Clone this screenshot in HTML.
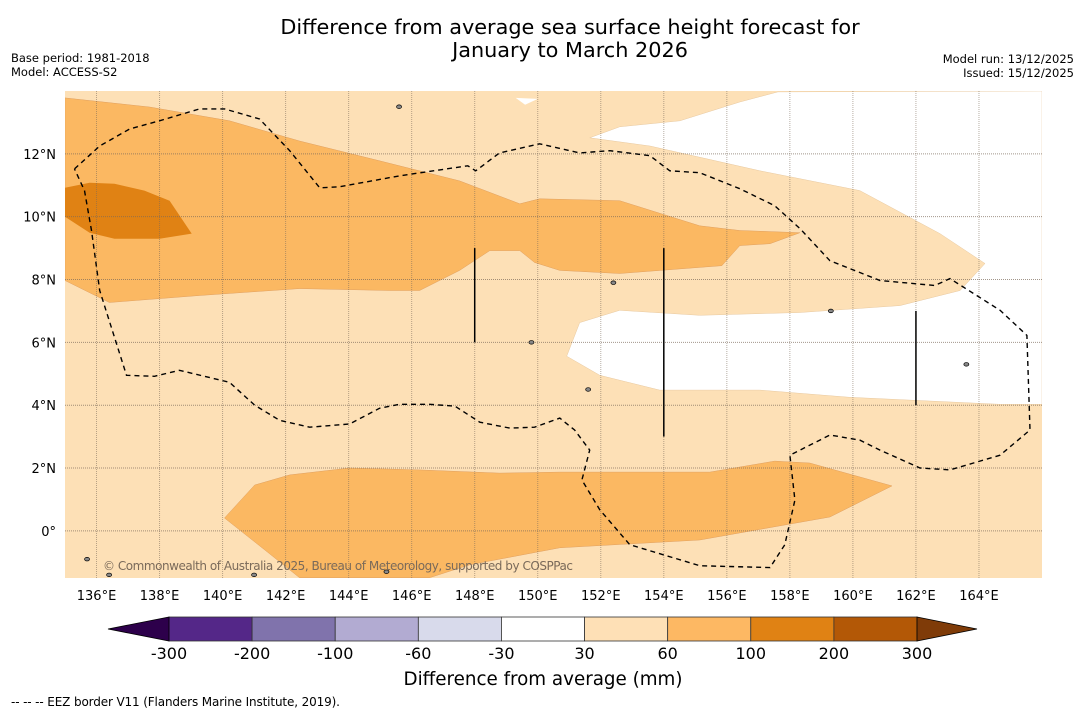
<!DOCTYPE html>
<html><head><meta charset="utf-8"><style>
html,body{margin:0;padding:0;background:#fff;}
body{width:1085px;height:713px;overflow:hidden;font-family:"Liberation Sans","DejaVu Sans",sans-serif;}
</style></head><body>
<svg id="chart" width="1085" height="713" xmlns="http://www.w3.org/2000/svg" font-family="DejaVu Sans, Liberation Sans, sans-serif">
<text x="570" y="34" font-size="20.8" text-anchor="middle">Difference from average sea surface height forecast for</text>
<text x="570" y="57" font-size="20.8" text-anchor="middle">January to March 2026</text>
<text x="11" y="62" font-size="11.5">Base period: 1981-2018</text>
<text x="11" y="76" font-size="11.5">Model: ACCESS-S2</text>
<text x="1074" y="63" font-size="11.5" text-anchor="end">Model run: 13/12/2025</text>
<text x="1074" y="77" font-size="11.5" text-anchor="end">Issued: 15/12/2025</text>
<defs><clipPath id="mapclip"><rect x="65" y="91" width="977" height="487"/></clipPath></defs>
<g id="map" clip-path="url(#mapclip)"></g>
<g id="axes"></g>
<g id="cbar"></g>
<text x="543" y="685" font-size="18.3" text-anchor="middle">Difference from average (mm)</text>
<text x="11" y="706" font-size="12" textLength="329">--  --  -- EEZ border V11 (Flanders Marine Institute, 2019).</text>
</svg>
<script>
const NS="http://www.w3.org/2000/svg";
// map extents (data)
const lonMin=135.0, lonMax=166.0, latMin=-1.5, latMax=14.0;
const lonTicks=[136,138,140,142,144,146,148,150,152,154,156,158,160,162,164];
const latTicks=[0,2,4,6,8,10,12];
const latTickLabels=["0°","2°N","4°N","6°N","8°N","10°N","12°N"];
// contour polygons [lon,lat]
const band60_100_north=[[135,13.78],[137.68,13.49],[140.22,13.05],[142.44,12.41],[144.98,11.78],[147.52,11.14],[149.43,10.41],[150.06,10.57],[152.6,10.51],[155.14,9.71],[156.41,9.56],[158.32,9.49],[157.37,9.14],[156.41,9.08],[155.84,8.44],[152.6,8.19],[150.7,8.29],[149.9,8.54],[149.43,8.92],[148.48,8.92],[147.52,8.29],[146.25,7.65],[145.3,7.65],[142.44,7.71],[139.27,7.49],[136.41,7.27],[135,7.97]];
const band100_200=[[135,10.92],[135.78,11.08],[136.57,11.05],[137.52,10.83],[138.32,10.51],[139.02,9.46],[138.0,9.3],[136.57,9.3],[135.78,9.49],[135,10.0]];
const band60_100_south=[[140.06,0.41],[141.02,1.46],[142.13,1.78],[144.03,2.0],[146.25,1.94],[148.79,1.84],[150.7,1.87],[153.56,1.87],[155.46,1.87],[157.52,2.22],[158.63,2.16],[161.24,1.43],[159.27,0.44],[155.14,-0.29],[150.7,-0.54],[147.84,-1.08],[146.57,-1.49],[142.44,-1.49],[141.33,-0.6]];
const bandWhite=[[151.65,12.51],[152.6,12.86],[154.51,13.05],[156.41,13.65],[157.62,13.97],[166,14],[166,4.03],[164.67,4.03],[159.9,4.25],[157.05,4.48],[153.87,4.48],[151.97,4.95],[150.92,5.56],[151.33,6.63],[152.6,7.02],[155.14,6.86],[158.32,6.95],[161.49,7.17],[163.4,7.65],[164.19,8.51],[162.76,9.46],[160.22,10.83],[157.05,11.46],[153.56,12.25]];
const bandWhiteSmall=[[149.3,13.78],[150.0,13.75],[149.6,13.56]];
const eezBorder=[[135.30,11.52],[136.10,12.25],[137.05,12.79],[138.0,13.05],[139.27,13.43],[140.06,13.43],[141.17,13.11],[142.13,12.10],[143.08,10.92],[143.71,10.95],[145.62,11.30],[146.89,11.49],[147.78,11.62],[148.03,11.46],[148.79,12.03],[150.06,12.32],[151.33,12.03],[152.29,12.10],[153.56,11.94],[154.19,11.46],[155.14,11.40],[156.41,10.89],[157.52,10.35],[158.32,9.62],[159.27,8.60],[160.86,7.97],[162.60,7.81],[163.08,8.03],[164.67,7.02],[165.52,6.22],[165.62,3.21],[164.67,2.41],[163.08,1.94],[162.13,2.0],[160.86,2.57],[160.22,2.89],[159.27,3.05],[158.0,2.41],[158.16,0.98],[157.84,-0.44],[157.37,-1.17],[155.14,-1.11],[152.92,-0.44],[151.97,0.67],[151.40,1.62],[151.65,2.57],[151.17,3.21],[150.70,3.59],[149.90,3.30],[149.11,3.27],[148.16,3.46],[147.37,3.97],[146.57,4.03],[145.62,4.03],[144.98,3.90],[144.03,3.40],[142.76,3.30],[141.81,3.52],[141.02,4.0],[140.22,4.73],[138.63,5.11],[137.84,4.92],[136.95,4.95],[136.10,7.65],[135.84,9.56],[135.62,10.83],[135.30,11.52]];
const meridianSegs=[[148,9,6],[154,9,3],[162,7,4]];
const islands=[[145.6,13.5],[135.7,-0.9],[149.8,6.0],[152.4,7.9],[159.3,7.0],[163.6,5.3],[151.6,4.5],[141.0,-1.4],[145.2,-1.3],[136.4,-1.4]];
// colorbar
const cbLevels=["-300","-200","-100","-60","-30","30","60","100","200","300"];
const cbColors=["#542788","#8073ac","#b2abd2","#d8daeb","#ffffff","#fee0b6","#fdb863","#e08214","#b35806"];
const cbUnder="#2d004b", cbOver="#7f3b08";

const X0=65,X1=1042,Y0=91,Y1=578;
const px=lon=>X0+(lon-lonMin)/(lonMax-lonMin)*(X1-X0);
const py=lat=>Y1-(lat-latMin)/(latMax-latMin)*(Y1-Y0);
const pts=a=>a.map(p=>px(p[0]).toFixed(1)+","+py(p[1]).toFixed(1)).join(" ");
function mk(tag,attrs,parent){const e=document.createElementNS(NS,tag);for(const k in attrs)e.setAttribute(k,attrs[k]);parent.appendChild(e);return e;}
const map=document.getElementById('map');
let e=mk('rect',{x:X0,y:Y0,width:X1-X0,height:Y1-Y0,fill:"#fde0b6"},map);


e=mk('polygon',{points:pts(band60_100_north),fill:"#fbb862",stroke:"#e0a060","stroke-width":0.5},map);


e=mk('polygon',{points:pts(band100_200),fill:"#e08214"},map);


e=mk('polygon',{points:pts(band60_100_south),fill:"#fbb862",stroke:"#e0a060","stroke-width":0.5},map);


e=mk('polygon',{points:pts(bandWhite),fill:"#ffffff",stroke:"#e8c9a0","stroke-width":0.5},map);


e=mk('polygon',{points:pts(bandWhiteSmall),fill:"#ffffff"},map);


// gridlines
lonTicks.forEach(l=>{const g=mk('line',{x1:px(l),x2:px(l),y1:Y0,y2:Y1,stroke:"#7a6a5a","stroke-opacity":0.55,"stroke-width":1,"stroke-dasharray":"1 1"},map);

});
latTicks.forEach(l=>{const g=mk('line',{x1:X0,x2:X1,y1:py(l),y2:py(l),stroke:"#7a6a5a","stroke-opacity":0.7,"stroke-width":1,"stroke-dasharray":"1 1"},map);

});
islands.forEach(p=>{const g=mk('ellipse',{cx:px(p[0]),cy:py(p[1]),rx:2.5,ry:1.8,fill:"#888",stroke:"#000","stroke-width":0.7},map);

});
e=mk('polyline',{points:pts(eezBorder),fill:"none",stroke:"#000","stroke-width":1.4,"stroke-dasharray":"5 4"},map);


meridianSegs.forEach(s=>{const g=mk('line',{x1:px(s[0]),x2:px(s[0]),y1:py(s[1]),y2:py(s[2]),stroke:"#000","stroke-width":1.5},map);

});
e=mk('text',{x:103,y:570,"font-size":12,fill:"#7a6a5a",textLength:470},map);
e.textContent="© Commonwealth of Australia 2025, Bureau of Meteorology, supported by COSPPac";


// axes labels
const ax=document.getElementById('axes');
lonTicks.forEach(l=>{const t=mk('text',{x:px(l),y:600,"font-size":13,"text-anchor":"middle"},ax);t.textContent=l+"°E";

});
latTicks.forEach((l,i)=>{const t=mk('text',{x:56,y:py(l)+5,"font-size":13,"text-anchor":"end"},ax);t.textContent=latTickLabels[i];

});
// colorbar
const cb=document.getElementById('cbar');
const CX0=169,CX1=917,CY0=617,CY1=641,n=cbColors.length,w=(CX1-CX0)/n;
cbColors.forEach((c,i)=>{const r=mk('rect',{x:CX0+i*w,y:CY0,width:w,height:CY1-CY0,fill:c,stroke:"#333","stroke-width":0.8},cb);

});
e=mk('polygon',{points:`${CX0},${CY0} ${CX0-61},${(CY0+CY1)/2} ${CX0},${CY1}`,fill:cbUnder,stroke:"#000","stroke-width":0.8},cb);


e=mk('polygon',{points:`${CX1},${CY0} ${CX1+60},${(CY0+CY1)/2} ${CX1},${CY1}`,fill:cbOver,stroke:"#000","stroke-width":0.8},cb);


cbLevels.forEach((l,i)=>{const t=mk('text',{x:CX0+i*w,y:659,"font-size":16,"text-anchor":"middle"},cb);t.textContent=l;

});
</script>
</body></html>
